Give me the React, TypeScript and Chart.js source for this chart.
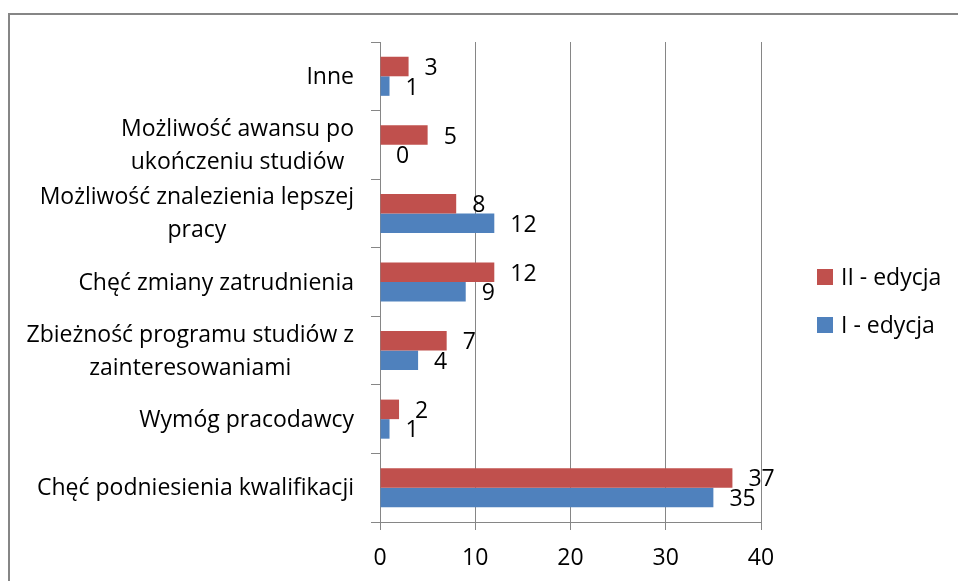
import React, { useEffect, useRef } from "react";
import { Chart, registerables } from "chart.js";

Chart.register(...registerables);

// ---- data ----
const categories: (string | string[])[] = [
  "Inne",
  ["Możliwość awansu po", "ukończeniu studiów"],
  ["Możliwość znalezienia lepszej", "pracy"],
  "Chęć zmiany zatrudnienia",
  ["Zbieżność programu studiów z", "zainteresowaniami"],
  "Wymóg pracodawcy",
  "Chęć podniesienia kwalifikacji",
];
const seriesNames = ["II - edycja", "I - edycja"];
const edycjaII = [3, 5, 8, 12, 7, 2, 37];
const edycjaI = [1, 0, 12, 9, 4, 1, 35];
const xMin = 0;
const xMax = 40;
const xStep = 10;

// ---- styles ----
const FONT = '"Open Sans", "Noto Sans", sans-serif';
const FONT_SIZE = 23;
const GRID = "#868686";
const COLORS = ["#C0504D", "#4F81BD"];

const framePlugin = {
  id: "frame",
  beforeDraw(chart: any) {
    const ctx = chart.ctx;
    ctx.save();
    ctx.strokeStyle = GRID;
    ctx.lineWidth = 2;
    ctx.beginPath();
    ctx.moveTo(9, 581);
    ctx.lineTo(9, 14);
    ctx.lineTo(958, 14);
    ctx.stroke();
    ctx.restore();
  },
};

const categoryLabelPlugin = {
  id: "categoryLabels",
  afterDraw(chart: any) {
    const ctx = chart.ctx;
    const yScale = chart.scales.y;
    ctx.save();
    ctx.font = `${FONT_SIZE}px ${FONT}`;
    ctx.fillStyle = "#000";
    ctx.textAlign = "center";
    ctx.textBaseline = "middle";
    const right = chart.chartArea.left - 26;
    categories.forEach((lab, i) => {
      const lines = Array.isArray(lab) ? lab : [lab];
      const w = Math.max(...lines.map((l) => ctx.measureText(l).width));
      const cx = right - w / 2;
      const cy = yScale.getPixelForValue(i) + 1;
      lines.forEach((l, j) => {
        ctx.fillText(l, cx, cy + (j - (lines.length - 1) / 2) * 33);
      });
    });
    ctx.restore();
  },
};

const dataLabelPlugin = {
  id: "dataLabels",
  afterDatasetsDraw(chart: any) {
    const ctx = chart.ctx;
    ctx.save();
    ctx.font = `${FONT_SIZE}px ${FONT}`;
    ctx.fillStyle = "#000";
    ctx.textAlign = "left";
    ctx.textBaseline = "middle";
    chart.data.datasets.forEach((ds: any, di: number) => {
      const meta = chart.getDatasetMeta(di);
      meta.data.forEach((el: any, i: number) => {
        ctx.fillText(String(ds.data[i]), el.x + 16, el.y + 2);
      });
    });
    ctx.restore();
  },
};

const legendPlugin = {
  id: "customLegend",
  afterDraw(chart: any) {
    const ctx = chart.ctx;
    ctx.save();
    ctx.font = `${FONT_SIZE}px ${FONT}`;
    ctx.textAlign = "left";
    ctx.textBaseline = "middle";
    const rowsY = [277, 325];
    chart.data.datasets.forEach((ds: any, di: number) => {
      const cy = rowsY[di];
      ctx.fillStyle = ds.backgroundColor;
      ctx.fillRect(817, cy - 8, 16, 16);
      ctx.fillStyle = "#000";
      ctx.fillText(ds.label, 841, cy + 1);
    });
    ctx.restore();
  },
};

export default function App() {
  const ref = useRef<HTMLCanvasElement | null>(null);

  useEffect(() => {
    if (!ref.current) return;
    const chart = new Chart(ref.current, {
      type: "bar",
      data: {
        labels: categories.map((c) => (Array.isArray(c) ? c.join(" ") : c)),
        datasets: [
          {
            label: seriesNames[0],
            data: edycjaII,
            backgroundColor: COLORS[0],
            borderWidth: 0,
            categoryPercentage: 0.57,
            barPercentage: 1.0,
          },
          {
            label: seriesNames[1],
            data: edycjaI,
            backgroundColor: COLORS[1],
            borderWidth: 0,
            categoryPercentage: 0.57,
            barPercentage: 1.0,
          },
        ],
      },
      options: {
        indexAxis: "y",
        responsive: false,
        animation: false,
        devicePixelRatio: 1,
        layout: { padding: { left: 0, right: 197, top: 42, bottom: 0 } },
        plugins: {
          legend: { display: false },
          tooltip: { enabled: false },
        },
        scales: {
          y: {
            type: "category",
            offset: true,
            grid: {
              display: true,
              drawOnChartArea: false,
              drawTicks: true,
              tickLength: 9,
              color: GRID,
              offset: true,
            },
            border: { display: true, color: GRID, width: 1 },
            ticks: { display: false },
            afterFit: (s: any) => {
              s.width = 380;
            },
          },
          x: {
            type: "linear",
            min: xMin,
            max: xMax,
            ticks: {
              stepSize: xStep,
              color: "#000",
              padding: 15,
              font: { family: FONT, size: FONT_SIZE },
            },
            grid: { color: GRID, tickLength: 8, drawTicks: true },
            border: { display: true, color: GRID, width: 1 },
            afterFit: (s: any) => {
              s.height = 59;
            },
          },
        },
      } as any,
      plugins: [framePlugin, categoryLabelPlugin, dataLabelPlugin, legendPlugin],
    });
    return () => chart.destroy();
  }, []);

  return (
    <div
      style={{
        position: "fixed",
        left: 0,
        top: 0,
        width: 958,
        height: 581,
        background: "#fff",
      }}
    >
      <canvas ref={ref} width={958} height={581} style={{ display: "block", width: 958, height: 581 }} />
    </div>
  );
}
